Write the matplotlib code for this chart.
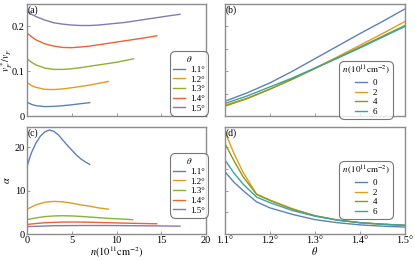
import matplotlib
matplotlib.use("Agg")
import matplotlib.pyplot as plt

plt.rcParams['font.family'] = ['Liberation Serif', 'DejaVu Serif']
plt.rcParams['mathtext.fontset'] = 'stix'

# ---- data ----
theta_labels = ["1.1°", "1.2°", "1.3°", "1.4°", "1.5°"]
theta_colors = ["#5E81B5", "#E19C24", "#8FB032", "#EB6235", "#8778B3"]

# panel (a): v_F*/v_F vs n
a_n_11 = [0, 0.5, 1, 2, 3, 4, 5, 6, 7]
a_v_11 = [0.031, 0.026, 0.023, 0.021, 0.0215, 0.023, 0.025, 0.0275, 0.0298]
a_n_12 = [0, 0.5, 1, 2, 3, 4, 5, 6, 7, 8, 9.1]
a_v_12 = [0.075, 0.068, 0.064, 0.0595, 0.059, 0.0605, 0.063, 0.066, 0.069, 0.073, 0.077]
a_n_13 = [0, 0.5, 1, 2, 3, 4, 5, 6, 7, 8, 9, 10, 11, 11.9]
a_v_13 = [0.128, 0.120, 0.114, 0.107, 0.104, 0.104, 0.1055, 0.108, 0.111, 0.114, 0.117, 0.120, 0.124, 0.1275]
a_n_14 = [0, 0.5, 1, 2, 3, 4, 5, 6, 7, 8, 9, 10, 11, 12, 13, 14.5]
a_v_14 = [0.185, 0.177, 0.170, 0.161, 0.156, 0.153, 0.1525, 0.154, 0.156, 0.159, 0.162, 0.165, 0.168, 0.171, 0.174, 0.179]
a_n_15 = [0, 0.5, 1, 2, 3, 4, 5, 6, 7, 8, 9, 10, 11, 12, 13, 14, 15, 16, 17.1]
a_v_15 = [0.234, 0.227, 0.222, 0.214, 0.208, 0.205, 0.203, 0.202, 0.202, 0.203, 0.205, 0.207, 0.209, 0.212, 0.215, 0.218, 0.221, 0.224, 0.227]

# panel (c): alpha vs n
c_n_11 = [0, 0.25, 0.5, 1, 1.5, 2, 2.5, 3, 3.5, 4, 4.5, 5, 5.5, 6, 6.5, 7]
c_a_11 = [15.4, 17.2, 18.7, 20.9, 22.5, 23.5, 23.9, 23.6, 22.8, 21.6, 20.4, 19.3, 18.2, 17.3, 16.6, 16.0]
c_n_12 = [0, 1, 2, 3, 4, 5, 6, 7, 8, 9.1]
c_a_12 = [5.7, 6.7, 7.3, 7.5, 7.4, 7.1, 6.7, 6.4, 6.0, 5.7]
c_n_13 = [0, 1, 2, 3, 4, 5, 6, 7, 8, 9, 10, 11, 11.8]
c_a_13 = [3.3, 3.7, 4.0, 4.15, 4.2, 4.15, 4.05, 3.9, 3.75, 3.6, 3.5, 3.4, 3.3]
c_n_14 = [0, 2, 4, 6, 8, 10, 12, 14.5]
c_a_14 = [2.2, 2.6, 2.75, 2.75, 2.65, 2.55, 2.45, 2.35]
c_n_15 = [0, 3, 6, 9, 12, 15, 17.1]
c_a_15 = [1.7, 1.9, 1.95, 1.95, 1.9, 1.85, 1.8]

# panels (b), (d): vs theta for fixed n
n_labels = ["0", "2", "4", "6"]
n_colors = ["#5E81B5", "#E19C24", "#8B9A1E", "#3BA3A0"]
b_theta = [1.1, 1.15, 1.2, 1.25, 1.3, 1.35, 1.4, 1.45, 1.5]
b_v_0 = [0.033, 0.052, 0.074, 0.100, 0.128, 0.156, 0.184, 0.211, 0.239]
b_v_2 = [0.024, 0.040, 0.060, 0.083, 0.107, 0.132, 0.158, 0.184, 0.211]
b_v_4 = [0.022, 0.039, 0.060, 0.082, 0.106, 0.130, 0.154, 0.178, 0.202]
b_v_6 = [0.028, 0.045, 0.065, 0.085, 0.107, 0.129, 0.152, 0.176, 0.200]

d_theta = [1.1, 1.12, 1.14, 1.17, 1.2, 1.25, 1.3, 1.35, 1.4, 1.45, 1.5]
d_a_0 = [14.3, 11.9, 10.0, 7.4, 6.0, 4.5, 3.3, 2.6, 2.1, 1.8, 1.6]
d_a_2 = [23.5, 18.5, 14.2, 9.2, 7.8, 5.8, 4.2, 3.2, 2.6, 2.25, 2.0]
d_a_4 = [20.8, 16.8, 13.2, 9.1, 7.7, 5.7, 4.2, 3.2, 2.6, 2.25, 2.0]
d_a_6 = [17.0, 14.0, 11.5, 8.5, 7.2, 5.4, 4.1, 3.2, 2.6, 2.25, 2.0]

# ---- figure ----
W, H = 415, 260
fig = plt.figure(figsize=(W / 100, H / 100), dpi=100)

def ax_at(x0, y0, x1, y1):
    return fig.add_axes([x0 / W, 1 - y1 / H, (x1 - x0) / W, (y1 - y0) / H])

axa = ax_at(27, 4, 206, 116)
axb = ax_at(225, 4, 405, 116)
axc = ax_at(27, 127, 206, 234)
axd = ax_at(225, 127, 405, 234)

frame = "#8c8c8c"
for ax in (axa, axb, axc, axd):
    for s in ax.spines.values():
        s.set_color(frame)
        s.set_linewidth(1.0)
    ax.tick_params(direction='in', length=2.5, width=0.6, color=frame,
                   labelsize=7.5, pad=1.5)

lw = 1.0
for n, v, c, l in zip([a_n_11, a_n_12, a_n_13, a_n_14, a_n_15],
                      [a_v_11, a_v_12, a_v_13, a_v_14, a_v_15],
                      theta_colors, theta_labels):
    axa.plot(n, v, color=c, lw=lw, label=l)
for n, v, c, l in zip([c_n_11, c_n_12, c_n_13, c_n_14, c_n_15],
                      [c_a_11, c_a_12, c_a_13, c_a_14, c_a_15],
                      theta_colors, theta_labels):
    axc.plot(n, v, color=c, lw=lw, label=l)
for v, c, l in zip([b_v_0, b_v_2, b_v_4, b_v_6], n_colors, n_labels):
    axb.plot(b_theta, v, color=c, lw=lw, label=l)
for v, c, l in zip([d_a_0, d_a_2, d_a_4, d_a_6], n_colors, n_labels):
    axd.plot(d_theta, v, color=c, lw=lw, label=l)

# limits and ticks
for ax in (axa, axc):
    ax.set_xlim(0, 20)
    ax.set_xticks([0, 5, 10, 15, 20])
for ax in (axb, axd):
    ax.set_xlim(1.1, 1.5)
    ax.set_xticks([1.1, 1.2, 1.3, 1.4, 1.5])
for ax in (axa, axb):
    ax.set_ylim(0, 0.25)
for ax in (axc, axd):
    ax.set_ylim(0, 24.6)

axa.set_yticks([0, 0.1, 0.2])
axa.set_yticklabels(["0", "0.1", "0.2"])
axa.set_xticklabels([])
axb.set_yticks([0.05, 0.1, 0.15, 0.2])
axb.set_yticklabels([])
axb.set_xticklabels([])
axc.set_yticks([0, 10, 20])
axc.set_yticklabels(["0", "10", "20"])
axc.set_xticklabels(["0", "5", "10", "15", "20"])
axd.set_yticks([5, 10, 15, 20])
axd.set_yticklabels([])
axd.set_xticklabels(["1.1°", "1.2°", "1.3°", "1.4°", "1.5°"])

axa.set_ylabel(r"$v_F^*/v_F$", fontsize=7)
axa.yaxis.set_label_coords((14.5 - 27) / 179, 0.5)
axc.set_ylabel(r"$\alpha$", fontsize=7.5)
axc.yaxis.set_label_coords((12 - 27) / 179, 0.5)
axc.set_xlabel(r"$n(10^{11}\mathrm{cm}^{-2})$", fontsize=7.5)
axc.xaxis.set_label_coords(0.5, (234 - 245) / 107)
axd.set_xlabel(r"$\theta$", fontsize=7.5)
axd.xaxis.set_label_coords(0.5, (234 - 245) / 107)

for ax, t in zip((axa, axb, axc, axd), ("(a)", "(b)", "(c)", "(d)")):
    ax.text(0.005, 0.985, t, transform=ax.transAxes, ha='left', va='top', fontsize=7)

def leg(ax, title, anchor):
    lg = ax.legend(title=title, loc='upper left', bbox_to_anchor=anchor,
                   fontsize=6.5, title_fontsize=6.5, handlelength=1.3,
                   handletextpad=0.6, labelspacing=0.15, borderpad=0.35,
                   frameon=True, fancybox=True, borderaxespad=0)
    fr = lg.get_frame()
    fr.set_edgecolor("#555555")
    fr.set_linewidth(0.8)
    fr.set_boxstyle("round,pad=0,rounding_size=0.6")
    return lg

leg(axa, r"$\theta$", ((170 - 27) / 179, 1 - (51 - 4) / 112))
leg(axc, r"$\theta$", ((170 - 27) / 179, 1 - (153 - 127) / 107))
leg(axb, r"$n\,(10^{11}\mathrm{cm}^{-2})$", ((339 - 225) / 180, 1 - (61 - 4) / 112))
leg(axd, r"$n\,(10^{11}\mathrm{cm}^{-2})$", ((339 - 225) / 180, 1 - (161 - 127) / 107))

fig.savefig("out.png", dpi=100)
